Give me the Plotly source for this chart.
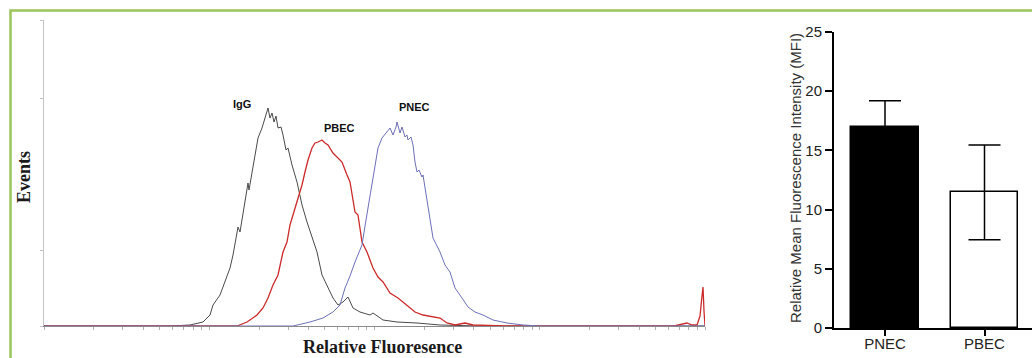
import plotly.graph_objects as go
import math

# ---------------- data ----------------
# Flow-cytometry histograms (x: fluorescence channel on 4-decade log scale, 0..661; y: events)
igg_ch = [0, 86, 126, 146, 159, 166, 169, 176, 181, 186, 189, 193, 194, 196, 199, 203, 204, 205,
          208, 211, 214, 218, 221, 224, 226, 228, 230, 232, 234, 237, 239, 242, 244, 248, 253, 258,
          263, 268, 273, 278, 283, 289, 294, 299, 304, 309, 316, 326, 329, 339, 353, 373, 396, 436, 661]
igg_ct = [0, 0, 0, 1, 4, 11, 21, 31, 44, 58, 71, 91, 99, 94, 114, 138, 143, 136,
          154, 168, 188, 198, 209, 218, 208, 213, 204, 210, 198, 199, 191, 176, 178, 161, 144, 121,
          104, 88, 74, 51, 41, 28, 21, 24, 29, 18, 14, 11, 13, 6, 4, 3, 1, 0, 0]

pbec_ch = [0, 193, 203, 213, 219, 224, 229, 234, 239, 243, 246, 249, 253, 258, 261, 264, 268, 271,
           274, 278, 281, 284, 289, 293, 298, 303, 306, 311, 314, 318, 323, 329, 334, 339, 346, 354,
           363, 371, 379, 389, 396, 403, 411, 421, 429, 460, 630, 643, 648, 653, 656, 658, 659, 660, 661]
pbec_ct = [0, 0, 4, 11, 18, 28, 41, 51, 74, 84, 101, 111, 124, 141, 154, 166, 178, 183,
           184, 186, 183, 181, 173, 169, 164, 151, 144, 114, 111, 84, 74, 58, 49, 44, 33, 28,
           21, 14, 11, 9, 8, 3, 1, 3, 1, 0, 0, 3, 1, 1, 10, 30, 39, 15, 0]

pnec_ch = [0, 249, 266, 279, 289, 296, 301, 306, 311, 316, 318, 321, 326, 331, 334, 338, 343, 346,
           349, 352, 353, 356, 358, 361, 363, 364, 367, 369, 371, 373, 375, 378, 379, 381, 384, 389,
           396, 401, 406, 411, 418, 424, 431, 439, 449, 463, 479, 496, 661]
pnec_ct = [0, 0, 4, 8, 14, 21, 38, 50, 64, 76, 81, 100, 131, 159, 178, 188, 194, 198,
           191, 199, 204, 193, 199, 189, 191, 186, 189, 181, 164, 154, 156, 149, 151, 139, 121, 88,
           74, 61, 54, 38, 28, 19, 14, 11, 6, 3, 1, 0, 0]

hist_names = ["IgG", "PBEC", "PNEC"]
hist_colors = ["#4a4a4a", "#cc2a2a", "#6c70b8"]

# Bar chart: relative MFI
bar_cats = ["PNEC", "PBEC"]
bar_mfi = [16.95, 11.45]
bar_err = [2.25, 4.0]
bar_fill = ["#000000", "#ffffff"]

mfi_ticks = [0, 5, 10, 15, 20, 25]

# ---------------- layout helpers ----------------
W, H = 1032, 358


def fx(px):
    return px / W


def fy(py):
    return 1 - py / H


fig = go.Figure()

for ch, ct, name, col, lw in [(igg_ch, igg_ct, hist_names[0], hist_colors[0], 1.0),
                              (pbec_ch, pbec_ct, hist_names[1], hist_colors[1], 1.3),
                              (pnec_ch, pnec_ct, hist_names[2], hist_colors[2], 1.0)]:
    fig.add_trace(go.Scatter(x=ch, y=ct, mode="lines", name=name,
                             line=dict(color=col, width=lw), xaxis="x", yaxis="y",
                             showlegend=False, hoverinfo="skip"))

fig.add_trace(go.Bar(x=bar_cats, y=bar_mfi, xaxis="x2", yaxis="y2", width=0.683,
                     marker=dict(color=bar_fill, line=dict(color="#000000", width=1.5)),
                     error_y=dict(type="data", array=bar_err, arrayminus=bar_err, symmetric=False,
                                  color="#000000", thickness=1.5, width=16),
                     showlegend=False, hoverinfo="skip"))

# log-decade tick positions (channel units) for the histogram x axis
dec = 661 / 4
xt_vals = []
for d in range(4):
    for m in range(1, 10):
        xt_vals.append(d * dec + math.log10(m) * dec)
xt_vals.append(4 * dec)

fig.update_layout(
    template="none",
    width=W, height=H, autosize=False,
    margin=dict(l=0, r=0, t=0, b=0, pad=0),
    paper_bgcolor="white", plot_bgcolor="white",
    bargap=0,
    font=dict(family="Liberation Sans"),
    xaxis=dict(domain=[fx(44), fx(705)], range=[0, 661], showgrid=False, zeroline=False,
               automargin=False,
               showline=True, linecolor="#8a8a8a", linewidth=1,
               tickmode="array", tickvals=xt_vals, showticklabels=False,
               ticks="outside", ticklen=3, tickcolor="#b0b0b0", tickwidth=1),
    yaxis=dict(domain=[fy(326), fy(20)], range=[0, 306], showgrid=False, zeroline=False,
               automargin=False,
               showline=True, linecolor="#c4c4c4", linewidth=1,
               tickmode="array", tickvals=[0, 76, 228, 306], showticklabels=False,
               ticks="outside", ticklen=3, tickcolor="#c4c4c4"),
    xaxis2=dict(domain=[fx(834), 1.0], range=[-0.5126, 1.4774], type="category", anchor="y2",
                automargin=False,
                showgrid=False, zeroline=False, showline=True, linecolor="#000000", linewidth=2,
                ticks="outside", ticklen=6, tickwidth=2, tickcolor="#000000",
                tickfont=dict(size=15, color="#222222", family="Liberation Sans Narrow, Liberation Sans")),
    yaxis2=dict(domain=[fy(328), fy(32)], range=[0, 25], anchor="x2",
                automargin=False,
                showgrid=False, zeroline=False, showline=True, linecolor="#000000", linewidth=2,
                tickmode="array", tickvals=mfi_ticks,
                ticks="outside", ticklen=7, tickwidth=2, tickcolor="#000000",
                tickfont=dict(size=15, color="#222222", family="Liberation Sans Narrow, Liberation Sans")),
)
try:
    fig.update_layout(xaxis2_ticklabelstandoff=-5)
except Exception:
    pass

ann = [
    dict(text="<b>IgG</b>", x=fx(242), y=fy(104), font=dict(size=11, family="Liberation Sans", color="#111")),
    dict(text="<b>PBEC</b>", x=fx(339), y=fy(128), font=dict(size=11, family="Liberation Sans", color="#111")),
    dict(text="<b>PNEC</b>", x=fx(414), y=fy(107), font=dict(size=11, family="Liberation Sans", color="#111")),
    dict(text="<b>Events</b>", x=fx(24), y=fy(177), textangle=-90,
         font=dict(size=18, family="Liberation Serif", color="#1a1a1a")),
    dict(text="<b>Relative Fluoresence</b>", x=fx(382), y=fy(347),
         font=dict(size=18, family="Liberation Serif", color="#1a1a1a")),
    dict(text="Relative Mean Fluorescence Intensity (MFI)", x=fx(795), y=fy(178), textangle=-90,
         font=dict(size=15, family="Liberation Sans", color="#333333")),
]
for a in ann:
    a.update(xref="paper", yref="paper", showarrow=False, xanchor="center", yanchor="middle")
fig.update_layout(annotations=ann)

fig.add_shape(type="rect", xref="paper", yref="paper",
              x0=fx(10.5), y0=-0.1, x1=1.1, y1=fy(10.5),
              line=dict(color="#9bc45a", width=2.5), fillcolor="rgba(0,0,0,0)", layer="above")

fig.write_html("out.html", config={"displayModeBar": False},
               post_script="document.body.style.margin='0';document.body.style.overflow='hidden';")
